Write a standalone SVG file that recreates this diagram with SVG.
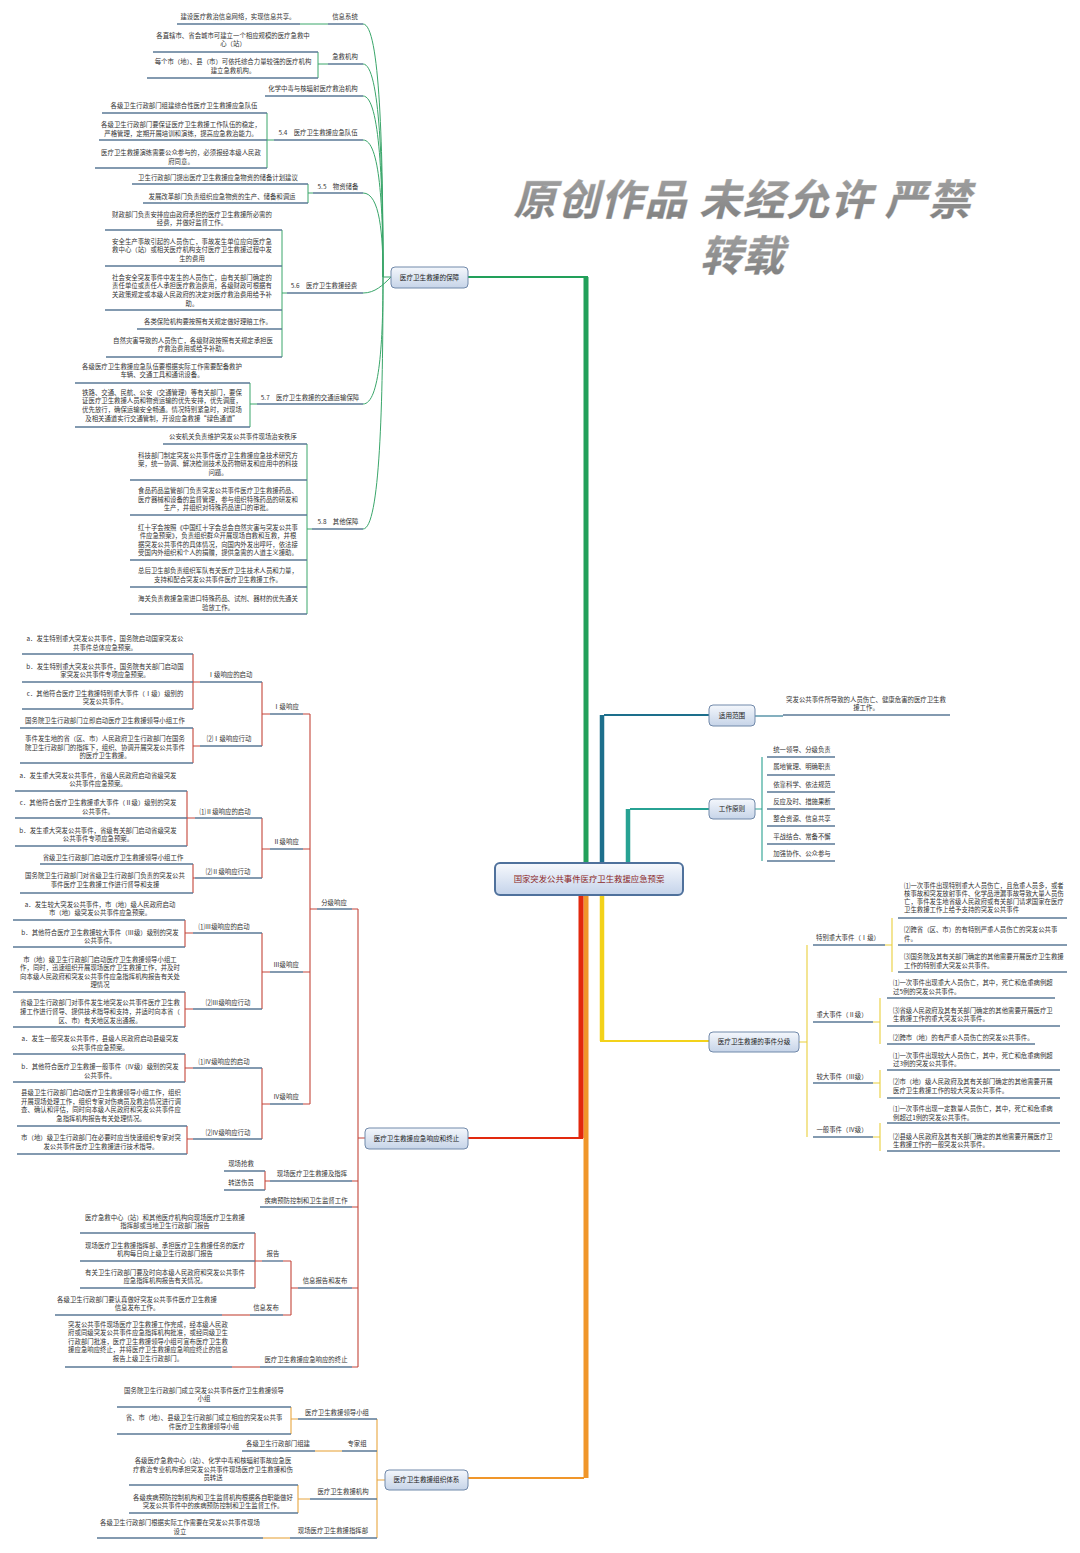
<svg xmlns="http://www.w3.org/2000/svg" width="1080" height="1553" viewBox="0 0 1080 1553">
<defs>
<linearGradient id="ng" x1="0" y1="0" x2="0" y2="1"><stop offset="0" stop-color="#f4f7fc"/><stop offset="1" stop-color="#c6d4e8"/></linearGradient>
<linearGradient id="cg" x1="0" y1="0" x2="0" y2="1"><stop offset="0" stop-color="#f7f9fd"/><stop offset="1" stop-color="#c4d3ea"/></linearGradient>
<linearGradient id="wg" x1="0" y1="0" x2="0" y2="1"><stop offset="0" stop-color="#a8a8a8"/><stop offset="1" stop-color="#7c7c7c"/></linearGradient>
</defs>
<style>
.t{font-family:"Noto Sans CJK SC","Noto Sans",sans-serif;font-size:6.4px;fill:#333;text-anchor:middle}
.l{text-anchor:start}
.u{stroke:#5a7896;stroke-width:1.4;fill:none}
.g{stroke:#3aa66a;stroke-width:1;fill:none}
.r{stroke:#c4453a;stroke-width:1.1;fill:none}
.o{stroke:#e8a640;stroke-width:1.1;fill:none}
.y{stroke:#e9cf3c;stroke-width:1.1;fill:none}
.tl{stroke:#2aa191;stroke-width:1.1;fill:none}
.dt{stroke:#1f6f8b;stroke-width:1.1;fill:none}
.nd{fill:url(#ng);stroke:#7189aa;stroke-width:1}
.nt{font-family:"Noto Sans CJK SC","Noto Sans",sans-serif;font-size:6.6px;fill:#222;text-anchor:middle}
.wm{font-family:"Noto Sans CJK SC","Noto Sans CJK JP",sans-serif;font-size:42px;font-style:italic;font-weight:bold;text-anchor:middle;fill:url(#wg);stroke:#d6d6d6;stroke-width:0.8;paint-order:stroke}
</style>
<rect width="1080" height="1553" fill="#fff"/>

<!-- watermark -->
<g id="watermark">
<text class="wm" x="742" y="215" textLength="457">原创作品 未经允许 严禁</text>
<text class="wm" x="742" y="271">转载</text>
</g>

<!-- connectors -->
<g id="connectors">
<path d="M586 863V277" stroke="#22a05a" stroke-width="5" fill="none"/>
<path d="M588 277H468" stroke="#22a05a" stroke-width="2" fill="none"/>
<path d="M602 863V715" stroke="#1d6f8c" stroke-width="4.5" fill="none"/>
<path d="M604 715H709" stroke="#1d6f8c" stroke-width="2" fill="none"/>
<path d="M628 863V809" stroke="#27a293" stroke-width="4.5" fill="none"/>
<path d="M630 809H709" stroke="#27a293" stroke-width="2" fill="none"/>
<path d="M602 895V1041" stroke="#f3d21a" stroke-width="4.5" fill="none"/>
<path d="M600 1041H709" stroke="#f3d21a" stroke-width="2" fill="none"/>
<path d="M586 895V1478" stroke="#f0962a" stroke-width="5" fill="none"/>
<path d="M584 1478H468" stroke="#f0962a" stroke-width="2" fill="none"/>
<path d="M581 895V1138" stroke="#e2290e" stroke-width="5" fill="none"/>
<path d="M583 1138H468" stroke="#e2290e" stroke-width="2" fill="none"/>

<!-- green branch -->
<path class="g" d="M383 277H391"/>
<path class="g" d="M363 24C380 24 383 150 383 277"/>
<path class="g" d="M363 64C380 64 383 170 383 277"/>
<path class="g" d="M363 96C380 96 383 186 383 277"/>
<path class="g" d="M363 140C380 140 383 208 383 277"/>
<path class="g" d="M363 193C380 193 383 235 383 277"/>
<path class="g" d="M363 293C375 293 383 285 391 277"/>
<path class="g" d="M363 404C380 404 383 340 383 277"/>
<path class="g" d="M363 529C380 529 383 403 383 277"/>
<path class="g" d="M300 24H328"/>
<path class="g" d="M328 64H318M318 52V78"/>
<path class="g" d="M274 140H267M267 113V168"/>
<path class="g" d="M313 193H308M308 184V203"/>
<path class="g" d="M287 293H282M282 230V357"/>
<path class="g" d="M257 404H250M250 383V427"/>
<path class="g" d="M312 529H307M307 444V614"/>

<!-- red branch -->
<path class="r" d="M358 909V1367M358 1138H365"/>
<path class="r" d="M352 909H358M352 1181H358M352 1207H358M352 1288H358M352 1367H358"/>
<path class="r" d="M317 909H310M310 714V1104"/>
<path class="r" d="M303 714H310M303 849H310M303 972H310M303 1104H310"/>
<path class="r" d="M270 714H262M262 682V746"/>
<path class="r" d="M200 682H193M193 654V709"/>
<path class="r" d="M200 746H193M193 728V763"/>
<path class="r" d="M270 849H262M262 818V878"/>
<path class="r" d="M195 818H187M187 791V846"/>
<path class="r" d="M195 878H193M193 864V893"/>
<path class="r" d="M270 972H262M262 933V1009"/>
<path class="r" d="M193 933H185M185 920V947"/>
<path class="r" d="M193 1009H185M185 992V1027"/>
<path class="r" d="M270 1104H262M262 1068V1139"/>
<path class="r" d="M193 1068H185M185 1054V1082"/>
<path class="r" d="M193 1139H187M187 1126V1154"/>
<path class="r" d="M270 1181H265M265 1171V1190"/>
<path class="r" d="M298 1288H291M291 1261V1315"/>
<path class="r" d="M283 1261H291M283 1315H291"/>
<path class="r" d="M262 1261H255M255 1233V1288"/>
<path class="r" d="M222 1315H250"/>
<path class="r" d="M232 1367H260"/>

<!-- orange branch -->
<path class="o" d="M385 1480H377M377 1419V1538"/>
<path class="o" d="M298 1419H291M291 1407V1434"/>
<path class="o" d="M310 1499H298M298 1485V1513"/>
<path class="o" d="M315 1451H342"/>
<path class="o" d="M263 1538H290"/>

<!-- right branches -->
<path class="dt" d="M755 716H783"/>
<path class="tl" d="M755 809H762M762 757V861"/>
<path class="y" d="M799 1042H807M807 945V1137"/>
<path class="y" d="M885 945H892M892 918V972"/>
<path class="y" d="M873 1022H880M880 998V1044"/>
<path class="y" d="M873 1083H880M880 1070V1098"/>
<path class="y" d="M873 1137H880M880 1123V1151"/>
</g>

<!-- main nodes -->
<g id="center"><rect x="495" y="863" width="188" height="32" rx="5" fill="url(#cg)" stroke="#4f719c" stroke-width="2"/><text x="589" y="882" font-family="Noto Sans CJK SC, Noto Sans, sans-serif" font-size="8.4" fill="#8b2727" text-anchor="middle">国家突发公共事件医疗卫生救援应急预案</text></g>
<g id="n-baozhang"><rect class="nd" x="391" y="267" width="77" height="21" rx="4"/><text class="nt" x="429.5" y="279.5">医疗卫生救援的保障</text></g>
<g id="n-xiangying"><rect class="nd" x="365" y="1128" width="103" height="21" rx="4"/><text class="nt" x="416.5" y="1140.5">医疗卫生救援应急响应和终止</text></g>
<g id="n-zuzhi"><rect class="nd" x="385" y="1470" width="83" height="20" rx="4"/><text class="nt" x="426.5" y="1482.3">医疗卫生救援组织体系</text></g>
<g id="n-fanwei"><rect class="nd" x="709" y="705" width="46" height="21" rx="4"/><text class="nt" x="732" y="717.8">适用范围</text></g>
<g id="n-yuanze"><rect class="nd" x="709" y="799" width="46" height="20" rx="4"/><text class="nt" x="732" y="811.3">工作原则</text></g>
<g id="n-fenji"><rect class="nd" x="709" y="1032" width="90" height="20" rx="4"/><text class="nt" x="754" y="1044.3">医疗卫生救援的事件分级</text></g>

<!-- green branch topics -->
<g id="g1"><path class="u" d="M328 24H363"/><text class="t" x="345" y="19.3">信息系统</text>
<path class="u" d="M177 24H300"/><text class="t" x="238" y="19.3">建设医疗救治信息网络，实现信息共享。</text></g>
<g id="g2"><path class="u" d="M328 64H363"/><text class="t" x="345" y="59.3">急救机构</text>
<path class="u" d="M153 52H318"/><text class="t"><tspan x="233" y="38.3">各直辖市、省会城市可建立一个相应规模的医疗急救中</tspan><tspan x="233" y="46.3">心（站）</tspan></text>
<path class="u" d="M147 78H318"/><text class="t"><tspan x="233" y="64.3">每个市（地）、县（市）可依托综合力量较强的医疗机构</tspan><tspan x="233" y="73.3">建立急救机构。</tspan></text></g>
<g id="g3"><path class="u" d="M265 96H363"/><text class="t" x="313" y="91.3">化学中毒与核辐射医疗救治机构</text></g>
<g id="g4"><path class="u" d="M274 140H363"/><text class="t" x="318" y="135.3">5.4　医疗卫生救援应急队伍</text>
<path class="u" d="M102 113H267"/><text class="t" x="184" y="108.3">各级卫生行政部门组建综合性医疗卫生救援应急队伍</text>
<path class="u" d="M99 140H267"/><text class="t"><tspan x="181" y="127.3">各级卫生行政部门要保证医疗卫生救援工作队伍的稳定，</tspan><tspan x="181" y="136.3">严格管理，定期开展培训和演练，提高应急救治能力。</tspan></text>
<path class="u" d="M95 168H267"/><text class="t"><tspan x="181" y="155.3">医疗卫生救援演练需要公众参与的，必须报经本级人民政</tspan><tspan x="181" y="164.3">府同意。</tspan></text></g>
<g id="g5"><path class="u" d="M313 193H363"/><text class="t" x="338" y="189.3">5.5　物资储备</text>
<path class="u" d="M132 184H308"/><text class="t" x="218" y="180.3">卫生行政部门提出医疗卫生救援应急物资的储备计划建议</text>
<path class="u" d="M143 203H308"/><text class="t" x="222" y="199.3">发展改革部门负责组织应急物资的生产、储备和调运</text></g>
<g id="g6"><path class="u" d="M287 293H363"/><text class="t" x="324" y="288.3">5.6　医疗卫生救援经费</text>
<path class="u" d="M105 230H282"/><text class="t"><tspan x="192" y="217.3">财政部门负责安排应由政府承担的医疗卫生救援所必需的</tspan><tspan x="192" y="225.3">经费，并做好监督工作。</tspan></text>
<path class="u" d="M105 266H282"/><text class="t"><tspan x="192" y="244.3">安全生产事故引起的人员伤亡，事故发生单位应向医疗急</tspan><tspan x="192" y="252.3">救中心（站）或相关医疗机构支付医疗卫生救援过程中发</tspan><tspan x="192" y="261.3">生的费用</tspan></text>
<path class="u" d="M105 310H282"/><text class="t"><tspan x="192" y="280.3">社会安全突发事件中发生的人员伤亡，由有关部门确定的</tspan><tspan x="192" y="288.3">责任单位或责任人承担医疗救治费用，各级财政可根据有</tspan><tspan x="192" y="297.3">关政策规定或本级人民政府的决定对医疗救治费用给予补</tspan><tspan x="192" y="306.3">助。</tspan></text>
<path class="u" d="M137 329H282"/><text class="t" x="208" y="324.3">各类保险机构要按照有关规定做好理赔工作。</text>
<path class="u" d="M106 357H282"/><text class="t"><tspan x="193" y="343.3">自然灾害导致的人员伤亡，各级财政按照有关规定承担医</tspan><tspan x="193" y="351.3">疗救治费用或给予补助。</tspan></text></g>
<g id="g7"><path class="u" d="M257 404H363"/><text class="t" x="310" y="400.3">5.7　医疗卫生救援的交通运输保障</text>
<path class="u" d="M75 383H250"/><text class="t"><tspan x="162" y="369.3">各级医疗卫生救援应急队伍要根据实际工作需要配备救护</tspan><tspan x="162" y="377.3">车辆、交通工具和通讯设备。</tspan></text>
<path class="u" d="M75 427H250"/><text class="t"><tspan x="162" y="395.3">铁路、交通、民航、公安（交通管理）等有关部门，要保</tspan><tspan x="162" y="403.3">证医疗卫生救援人员和物资运输的优先安排，优先调度，</tspan><tspan x="162" y="412.3">优先放行，确保运输安全畅通。情况特别紧急时，对现场</tspan><tspan x="162" y="421.3">及相关通道实行交通管制，开设应急救援“绿色通道”</tspan></text></g>
<g id="g8"><path class="u" d="M312 529H363"/><text class="t" x="338" y="524.3">5.8　其他保障</text>
<path class="u" d="M163 444H307"/><text class="t" x="233" y="439.3">公安机关负责维护突发公共事件现场治安秩序</text>
<path class="u" d="M130 480H307"/><text class="t"><tspan x="218" y="458.3">科技部门制定突发公共事件医疗卫生救援应急技术研究方</tspan><tspan x="218" y="466.3">案，统一协调、解决检测技术及药物研发和应用中的科技</tspan><tspan x="218" y="475.3">问题。</tspan></text>
<path class="u" d="M130 515H307"/><text class="t"><tspan x="218" y="493.3">食品药品监管部门负责突发公共事件医疗卫生救援药品、</tspan><tspan x="218" y="502.3">医疗器械和设备的监督管理，参与组织特殊药品的研发和</tspan><tspan x="218" y="510.3">生产，并组织对特殊药品进口的审批。</tspan></text>
<path class="u" d="M130 560H307"/><text class="t"><tspan x="218" y="530.3">红十字会按照《中国红十字会总会自然灾害与突发公共事</tspan><tspan x="218" y="538.3">件应急预案》，负责组织群众开展现场自救和互救，并根</tspan><tspan x="218" y="547.3">据突发公共事件的具体情况，向国内外发出呼吁，依法接</tspan><tspan x="218" y="555.3">受国内外组织和个人的捐赠，提供急需的人道主义援助。</tspan></text>
<path class="u" d="M130 587H307"/><text class="t"><tspan x="218" y="573.3">总后卫生部负责组织军队有关医疗卫生技术人员和力量，</tspan><tspan x="218" y="582.3">支持和配合突发公共事件医疗卫生救援工作。</tspan></text>
<path class="u" d="M130 614H307"/><text class="t"><tspan x="218" y="601.3">海关负责救援急需进口特殊药品、试剂、器材的优先通关</tspan><tspan x="218" y="610.3">验放工作。</tspan></text></g>

<!-- red branch topics -->
<g id="r1"><path class="u" d="M317 909H352"/><text class="t" x="334" y="905.3">分级响应</text></g>
<g id="r1a"><path class="u" d="M270 714H303"/><text class="t" x="286" y="709.3">Ⅰ级响应</text>
<path class="u" d="M200 682H262"/><text class="t" x="230" y="677.3">Ⅰ级响应的启动</text>
<path class="u" d="M22 654H193"/><text class="t"><tspan x="105" y="641.3">a．发生特别重大突发公共事件，国务院启动国家突发公</tspan><tspan x="105" y="650.3">共事件总体应急预案。</tspan></text>
<path class="u" d="M22 682H193"/><text class="t"><tspan x="105" y="669.3">b．发生特别重大突发公共事件，国务院有关部门启动国</tspan><tspan x="105" y="677.3">家突发公共事件专项应急预案。</tspan></text>
<path class="u" d="M22 709H193"/><text class="t"><tspan x="105" y="696.3">c．其他符合医疗卫生救援特别重大事件（Ⅰ级）级别的</tspan><tspan x="105" y="704.3">突发公共事件。</tspan></text>
<path class="u" d="M200 746H262"/><text class="t" x="229" y="741.3">⑵Ⅰ级响应行动</text>
<path class="u" d="M20 728H193"/><text class="t" x="105" y="723.3">国务院卫生行政部门立即启动医疗卫生救援领导小组工作</text>
<path class="u" d="M20 763H193"/><text class="t"><tspan x="105" y="741.3">事件发生地的省（区、市）人民政府卫生行政部门在国务</tspan><tspan x="105" y="750.3">院卫生行政部门的指挥下，组织、协调开展突发公共事件</tspan><tspan x="105" y="758.3">的医疗卫生救援。</tspan></text></g>
<g id="r1b"><path class="u" d="M270 849H303"/><text class="t" x="286" y="844.3">Ⅱ级响应</text>
<path class="u" d="M195 818H262"/><text class="t" x="225" y="814.3">⑴Ⅱ级响应的启动</text>
<path class="u" d="M15 791H187"/><text class="t"><tspan x="98" y="778.3">a．发生重大突发公共事件，省级人民政府启动省级突发</tspan><tspan x="98" y="786.3">公共事件应急预案。</tspan></text>
<path class="u" d="M15 818H187"/><text class="t"><tspan x="98" y="805.3">c．其他符合医疗卫生救援重大事件（Ⅱ级）级别的突发</tspan><tspan x="98" y="814.3">公共事件。</tspan></text>
<path class="u" d="M15 846H187"/><text class="t"><tspan x="98" y="833.3">b．发生重大突发公共事件，省级有关部门启动省级突发</tspan><tspan x="98" y="841.3">公共事件专项应急预案。</tspan></text>
<path class="u" d="M195 878H262"/><text class="t" x="228" y="874.3">⑵Ⅱ级响应行动</text>
<path class="u" d="M40 864H193"/><text class="t" x="113" y="860.3">省级卫生行政部门启动医疗卫生救援领导小组工作</text>
<path class="u" d="M20 893H193"/><text class="t"><tspan x="105" y="878.3">国务院卫生行政部门对省级卫生行政部门负责的突发公共</tspan><tspan x="105" y="887.3">事件医疗卫生救援工作进行督导和支援</tspan></text></g>
<g id="r1c"><path class="u" d="M270 972H303"/><text class="t" x="286" y="967.3">Ⅲ级响应</text>
<path class="u" d="M193 933H262"/><text class="t" x="224" y="929.3">⑴Ⅲ级响应的启动</text>
<path class="u" d="M13 920H185"/><text class="t"><tspan x="100" y="907.3">a．发生较大突发公共事件，市（地）级人民政府启动</tspan><tspan x="100" y="915.3">市（地）级突发公共事件应急预案。</tspan></text>
<path class="u" d="M13 947H185"/><text class="t"><tspan x="100" y="935.3">b．其他符合医疗卫生救援较大事件（Ⅲ级）级别的突发</tspan><tspan x="100" y="943.3">公共事件。</tspan></text>
<path class="u" d="M193 1009H262"/><text class="t" x="228" y="1005.3">⑵Ⅲ级响应行动</text>
<path class="u" d="M13 992H185"/><text class="t"><tspan x="100" y="962.3">市（地）级卫生行政部门启动医疗卫生救援领导小组工</tspan><tspan x="100" y="970.3">作，同时，迅速组织开展现场医疗卫生救援工作，并及时</tspan><tspan x="100" y="979.3">向本级人民政府和突发公共事件应急指挥机构报告有关处</tspan><tspan x="100" y="987.3">理情况</tspan></text>
<path class="u" d="M13 1027H185"/><text class="t"><tspan x="100" y="1005.3">省级卫生行政部门对事件发生地突发公共事件医疗卫生救</tspan><tspan x="100" y="1014.3">援工作进行督导、提供技术指导和支持，并适时向本省（</tspan><tspan x="100" y="1023.3">区、市）有关地区发出通报。</tspan></text></g>
<g id="r1d"><path class="u" d="M270 1104H303"/><text class="t" x="286" y="1099.3">Ⅳ级响应</text>
<path class="u" d="M193 1068H262"/><text class="t" x="224" y="1064.3">⑴Ⅳ级响应的启动</text>
<path class="u" d="M13 1054H185"/><text class="t"><tspan x="100" y="1041.3">a．发生一般突发公共事件，县级人民政府启动县级突发</tspan><tspan x="100" y="1050.3">公共事件应急预案。</tspan></text>
<path class="u" d="M13 1082H185"/><text class="t"><tspan x="100" y="1069.3">b．其他符合医疗卫生救援一般事件（Ⅳ级）级别的突发</tspan><tspan x="100" y="1078.3">公共事件。</tspan></text>
<path class="u" d="M193 1139H262"/><text class="t" x="228" y="1135.3">⑵Ⅳ级响应行动</text>
<path class="u" d="M17 1126H187"/><text class="t"><tspan x="101" y="1095.3">县级卫生行政部门启动医疗卫生救援领导小组工作，组织</tspan><tspan x="101" y="1104.3">开展现场处理工作，组织专家对伤病员及救治情况进行调</tspan><tspan x="101" y="1112.3">查、确认和评估，同时向本级人民政府和突发公共事件应</tspan><tspan x="101" y="1121.3">急指挥机构报告有关处理情况。</tspan></text>
<path class="u" d="M17 1154H187"/><text class="t"><tspan x="101" y="1140.3">市（地）级卫生行政部门在必要时应当快速组织专家对突</tspan><tspan x="101" y="1149.3">发公共事件医疗卫生救援进行技术指导。</tspan></text></g>
<g id="r2"><path class="u" d="M270 1181H352"/><text class="t" x="312" y="1176.3">现场医疗卫生救援及指挥</text>
<path class="u" d="M224 1171H265"/><text class="t" x="241" y="1166.3">现场抢救</text>
<path class="u" d="M224 1190H265"/><text class="t" x="241" y="1185.3">转送伤员</text></g>
<g id="r3"><path class="u" d="M260 1207H352"/><text class="t" x="306" y="1203.3">疾病预防控制和卫生监督工作</text></g>
<g id="r4"><path class="u" d="M298 1288H352"/><text class="t" x="325" y="1283.3">信息报告和发布</text>
<path class="u" d="M262 1261H283"/><text class="t" x="273" y="1256.3">报告</text>
<path class="u" d="M80 1233H255"/><text class="t"><tspan x="165" y="1220.3">医疗急救中心（站）和其他医疗机构向现场医疗卫生救援</tspan><tspan x="165" y="1228.3">指挥部或当地卫生行政部门报告</tspan></text>
<path class="u" d="M80 1261H255"/><text class="t"><tspan x="165" y="1248.3">现场医疗卫生救援指挥部、承担医疗卫生救援任务的医疗</tspan><tspan x="165" y="1256.3">机构每日向上级卫生行政部门报告</tspan></text>
<path class="u" d="M80 1288H255"/><text class="t"><tspan x="165" y="1275.3">有关卫生行政部门要及时向本级人民政府和突发公共事件</tspan><tspan x="165" y="1283.3">应急指挥机构报告有关情况。</tspan></text>
<path class="u" d="M250 1315H283"/><text class="t" x="266" y="1310.3">信息发布</text>
<path class="u" d="M55 1315H222"/><text class="t"><tspan x="137" y="1302.3">各级卫生行政部门要认真做好突发公共事件医疗卫生救援</tspan><tspan x="137" y="1310.3">信息发布工作。</tspan></text></g>
<g id="r5"><path class="u" d="M260 1367H352"/><text class="t" x="306" y="1362.3">医疗卫生救援应急响应的终止</text>
<path class="u" d="M65 1367H232"/><text class="t"><tspan x="148" y="1327.3">突发公共事件现场医疗卫生救援工作完成，经本级人民政</tspan><tspan x="148" y="1335.3">府或同级突发公共事件应急指挥机构批准，或经同级卫生</tspan><tspan x="148" y="1344.3">行政部门批准，医疗卫生救援领导小组可宣布医疗卫生救</tspan><tspan x="148" y="1352.3">援应急响应终止，并将医疗卫生救援应急响应终止的信息</tspan><tspan x="148" y="1361.3">报告上级卫生行政部门。</tspan></text></g>

<!-- orange branch topics -->
<g id="o1"><path class="u" d="M298 1419H377"/><text class="t" x="337" y="1415.3">医疗卫生救援领导小组</text>
<path class="u" d="M117 1407H291"/><text class="t"><tspan x="204" y="1393.3">国务院卫生行政部门成立突发公共事件医疗卫生救援领导</tspan><tspan x="204" y="1401.3">小组</tspan></text>
<path class="u" d="M117 1434H291"/><text class="t"><tspan x="204" y="1420.3">省、市（地）、县级卫生行政部门成立相应的突发公共事</tspan><tspan x="204" y="1429.3">件医疗卫生救援领导小组</tspan></text></g>
<g id="o2"><path class="u" d="M342 1451H377"/><text class="t" x="357" y="1446.3">专家组</text>
<path class="u" d="M242 1451H315"/><text class="t" x="278" y="1446.3">各级卫生行政部门组建</text></g>
<g id="o3"><path class="u" d="M310 1499H377"/><text class="t" x="343" y="1494.3">医疗卫生救援机构</text>
<path class="u" d="M129 1485H298"/><text class="t"><tspan x="213" y="1463.3">各级医疗急救中心（站）、化学中毒和核辐射事故应急医</tspan><tspan x="213" y="1472.3">疗救治专业机构承担突发公共事件现场医疗卫生救援和伤</tspan><tspan x="213" y="1480.3">员转送</tspan></text>
<path class="u" d="M129 1513H298"/><text class="t"><tspan x="213" y="1500.3">各级疾病预防控制机构和卫生监督机构根据各自职能做好</tspan><tspan x="213" y="1508.3">突发公共事件中的疾病预防控制和卫生监督工作。</tspan></text></g>
<g id="o4"><path class="u" d="M290 1538H377"/><text class="t" x="333" y="1533.3">现场医疗卫生救援指挥部</text>
<path class="u" d="M97 1538H263"/><text class="t"><tspan x="180" y="1525.3">各级卫生行政部门根据实际工作需要在突发公共事件现场</tspan><tspan x="180" y="1534.3">设立</tspan></text></g>

<!-- right side -->
<g id="fanwei-c"><path class="u" d="M783 715H950"/><text class="t"><tspan x="866" y="702.3">突发公共事件所导致的人员伤亡、健康危害的医疗卫生救</tspan><tspan x="866" y="710.3">援工作。</tspan></text></g>
<g id="yuanze-c">
<path class="u" d="M767 757H835M767 775H835M767 792H835M767 809H835M767 826H835M767 844H835M767 861H835"/>
<text class="t" x="802" y="752.3">统一领导、分级负责</text>
<text class="t" x="802" y="769.3">属地管理、明确职责</text>
<text class="t" x="802" y="787.3">依靠科学、依法规范</text>
<text class="t" x="802" y="804.3">反应及时、措施果断</text>
<text class="t" x="802" y="821.3">整合资源、信息共享</text>
<text class="t" x="802" y="839.3">平战结合、常备不懈</text>
<text class="t" x="802" y="856.3">加强协作、公众参与</text></g>
<g id="e1"><path class="u" d="M813 945H885"/><text class="t" x="848" y="940.3">特别重大事件（Ⅰ级）</text>
<path class="u" d="M898 918H1067"/><text class="t l"><tspan x="904" y="888.3">⑴一次事件出现特别重大人员伤亡，且危重人员多，或者</tspan><tspan x="904" y="896.3">核事故和突发放射事件、化学品泄漏事故导致大量人员伤</tspan><tspan x="904" y="904.3">亡，事件发生地省级人民政府或有关部门请求国家在医疗</tspan><tspan x="904" y="912.3">卫生救援工作上给予支持的突发公共事件</tspan></text>
<path class="u" d="M898 945H1067"/><text class="t l"><tspan x="904" y="932.3">⑵跨省（区、市）的有特别严重人员伤亡的突发公共事</tspan><tspan x="904" y="941.3">件。</tspan></text>
<path class="u" d="M898 972H1067"/><text class="t l"><tspan x="904" y="959.3">⑶国务院及其有关部门确定的其他需要开展医疗卫生救援</tspan><tspan x="904" y="968.3">工作的特别重大突发公共事件。</tspan></text></g>
<g id="e2"><path class="u" d="M813 1022H873"/><text class="t" x="842" y="1017.3">重大事件（Ⅱ级）</text>
<path class="u" d="M887 998H1055"/><text class="t l"><tspan x="893" y="985.3">⑴一次事件出现重大人员伤亡，其中，死亡和危重病例超</tspan><tspan x="893" y="994.3">过5例的突发公共事件。</tspan></text>
<path class="u" d="M887 1026H1060"/><text class="t l"><tspan x="893" y="1013.3">⑶省级人民政府及其有关部门确定的其他需要开展医疗卫</tspan><tspan x="893" y="1021.3">生救援工作的重大突发公共事件。</tspan></text>
<path class="u" d="M887 1044H1035"/><text class="t l" x="893" y="1040.3">⑵跨市（地）的有严重人员伤亡的突发公共事件。</text></g>
<g id="e3"><path class="u" d="M813 1083H873"/><text class="t" x="842" y="1079.3">较大事件（Ⅲ级）</text>
<path class="u" d="M887 1070H1060"/><text class="t l"><tspan x="893" y="1058.3">⑴一次事件出现较大人员伤亡，其中，死亡和危重病例超</tspan><tspan x="893" y="1066.3">过3例的突发公共事件。</tspan></text>
<path class="u" d="M887 1098H1060"/><text class="t l"><tspan x="893" y="1084.3">⑵市（地）级人民政府及其有关部门确定的其他需要开展</tspan><tspan x="893" y="1093.3">医疗卫生救援工作的较大突发公共事件。</tspan></text></g>
<g id="e4"><path class="u" d="M813 1137H873"/><text class="t" x="842" y="1132.3">一般事件（Ⅳ级）</text>
<path class="u" d="M887 1123H1060"/><text class="t l"><tspan x="893" y="1111.3">⑴一次事件出现一定数量人员伤亡，其中，死亡和危重病</tspan><tspan x="893" y="1120.3">例超过1例的突发公共事件。</tspan></text>
<path class="u" d="M887 1151H1060"/><text class="t l"><tspan x="893" y="1139.3">⑵县级人民政府及其有关部门确定的其他需要开展医疗卫</tspan><tspan x="893" y="1147.3">生救援工作的一般突发公共事件。</tspan></text></g>
</svg>
